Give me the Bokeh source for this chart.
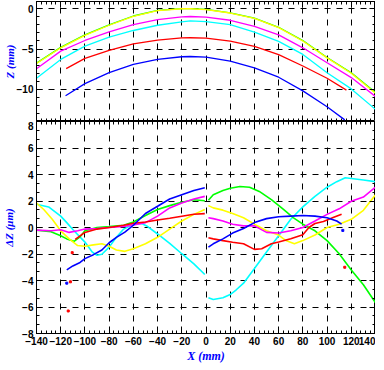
from bokeh.plotting import figure
from bokeh.layouts import column
from bokeh.models import SingleIntervalTicker, LinearAxis, Range1d, CustomJSTickFormatter
from bokeh.embed import file_html
from bokeh.resources import INLINE

NaN = float("nan")

# ---------------- upper panel: Z (mm) vs X (mm) ----------------
z_x_full = [-140, -120, -100, -80, -60, -40, -20, -13, 0, 20, 40, 60, 80, 100, 120, 140]
z_yellow = [-6.8, -4.85, -3.3, -2.05, -0.94, -0.23, 0.0, 0.0, -0.1, -0.53, -1.2, -2.35, -4.0, -6.1, -8.0, -10.5]
z_green = [-6.75, -4.8, -3.25, -2.0, -0.9, -0.2, 0.02, 0.02, -0.08, -0.5, -1.17, -2.3, -3.95, -6.05, -7.95, -10.4]
z_magenta = [-7.44, -5.26, -3.94, -2.87, -1.96, -1.35, -1.02, -0.96, -1.05, -1.43, -2.2, -3.25, -4.85, -6.7, -8.55, -10.9]
z_cyan = [-8.63, -6.29, -4.64, -3.53, -2.7, -2.05, -1.64, -1.5, -1.6, -1.96, -2.9, -4.05, -5.67, -7.94, -9.95, -12.5]
z_red_x = [-115.5, -100, -80, -60, -40, -20, -13, 0, 20, 40, 60, 80, 100, 116]
z_red = [-7.44, -6.16, -5.17, -4.36, -3.9, -3.62, -3.6, -3.65, -4.02, -4.66, -5.7, -7.11, -8.63, -10.1]
z_blue_x = [-116, -100, -80, -60, -40, -20, -13, 0, 20, 40, 60, 80, 100, 114.6]
z_blue = [-10.8, -9.3, -7.94, -6.9, -6.29, -5.96, -5.93, -6.0, -6.49, -7.35, -8.5, -10.2, -12.17, -13.8]

# ---------------- lower panel: dZ (um) vs X (mm) ----------------
cyan_x = [-140, -130, -120, -115, -110, -100, -94, -90, -86, -80, -74, -68, -60, -53, -49, -40, -30, -20, -10, -1,
          NaN, 2, 6, 14, 20, 25, 31, 40, 50, 60, 70, 80, 90, 100, 108, 115, 120, 130, 140]
cyan_y = [1.75, 1.55, 0.86, 0.37, -0.15, -1.1, -1.85, -2.1, -2.02, -1.48, -0.74, -0.12, 0.25, 0.3, 0.12, -0.49, -1.2, -1.98, -2.75, -3.55,
          NaN, -5.3, -5.43, -5.3, -5.06, -4.7, -4.2, -3.09, -1.85, -0.62, 0.62, 1.56, 2.35, 3.04, 3.46, 3.75, 3.7, 3.58, 3.46]

green_x = [-140, -128, -120, -115, -109, -104, -100, -90, -80, -68, -60, -50, -40, -30, -20, -10, -1,
           NaN, 2, 6, 14, 20, 28, 36, 44, 54, 64, 72, 80, 90, 100, 110, 120, 130, 140]
green_y = [-0.2, -0.32, -0.62, -0.86, -1.04, -0.7, -0.25, 0.0, 0.07, 0.17, 0.42, 0.91, 1.36, 1.65, 1.9, 2.1, 2.02,
           NaN, 2.05, 2.47, 2.79, 2.96, 3.09, 3.04, 2.72, 2.1, 1.36, 0.74, 0.25, -0.25, -0.99, -1.98, -3.2, -4.32, -5.68]

yellow_x = [-140, -134, -127, -120, -113, -106, -100, -93, -86, -80, -74, -67, -60, -50, -40, -30, -20, -10, -1,
            NaN, 2, 6, 14, 22, 31, 40, 50, 60, 66, 73, 80, 90, 100, 110, 120, 130, 140]
yellow_y = [1.85, 1.36, 0.62, -0.25, -0.86, -1.36, -1.41, -1.31, -1.23, -1.41, -1.7, -1.8, -1.6, -1.23, -0.74, -0.12, 0.49, 0.99, 1.36,
            NaN, 1.65, 1.48, 1.31, 1.06, 0.74, 0.25, -0.25, -0.57, -0.99, -1.23, -0.99, -0.57, 0.0, 0.25, 0.62, 1.3, 2.47]

magenta_x = [-140, -128, -120, -113, -106, -100, -90, -80, -68, -60, -50, -40, -30, -20, -10, -1,
             NaN, 2, 6, 14, 22, 31, 40, 50, 60, 70, 80, 90, 100, 110, 120, 130, 140]
magenta_y = [-0.2, -0.25, -0.17, -0.37, -0.25, -0.12, -0.07, 0.0, 0.07, 0.2, 0.37, 0.86, 1.48, 1.85, 2.15, 2.35,
             NaN, 0.74, 0.67, 0.49, 0.25, 0.12, 0.12, -0.37, -0.42, -0.25, 0.0, 0.49, 0.99, 1.41, 1.98, 2.3, 3.05]

red_x = [-108, -100, -90, -80, -68, -60, -50, -40, -30, -20, -10, -1,
         NaN, 2, 6, 14, 22, 31, 40, 46, 54, 60, 70, 80, 85, 90, 97, 105, 112]
red_y = [-0.9, -0.37, -0.12, 0.0, 0.17, 0.32, 0.42, 0.57, 0.7, 0.85, 1.0, 1.05,
         NaN, -0.78, -0.86, -0.99, -1.11, -1.23, -1.65, -1.6, -1.23, -1.1, -0.85, -0.55, 0.0, 0.3, 0.45, 0.75, 1.0]

blue_x = [-115, -110, -104, -100, -93, -86, -80, -74, -67, -60, -50, -40, -30, -20, -10, -1,
          NaN, 2, 6, 14, 22, 31, 40, 50, 60, 70, 80, 90, 100, 108, 112]
blue_y = [-3.2, -2.9, -2.64, -2.35, -2.05, -1.7, -1.15, -0.75, -0.35, 0.17, 1.06, 1.6, 2.15, 2.47, 2.79, 3.0,
          NaN, -1.48, -1.23, -0.86, -0.42, -0.07, 0.37, 0.67, 0.81, 0.86, 0.91, 0.86, 0.74, 0.49, 0.25]

red_out_x = [-113.8, -112, -110.5, 114.6]
red_out_y = [-6.3, -4.1, -1.9, -3.0]
blue_out_x = [-115, 113]
blue_out_y = [-4.2, -0.22]

x_ticks_interval = 20
z_ticks_interval = 5
dz_ticks_interval = 2

TICK_FONT = "Liberation Sans"
LABEL_FONT = "Liberation Serif"
BLUE = "#0000ff"
GRID_DASH = "dashed"


def hide_labels(ax, tin, tmin):
    ax.formatter = CustomJSTickFormatter(code="return '';")
    ax.major_label_text_font_size = "1px"
    ax.major_label_standoff = 0
    ax.major_tick_in = tin
    ax.major_tick_out = 0
    ax.minor_tick_in = tmin
    ax.minor_tick_out = 0
    ax.axis_line_color = "black"
    return ax


def style_main(ax, tin, tmin):
    ax.major_tick_in = tin
    ax.major_tick_out = 0
    ax.minor_tick_in = tmin
    ax.minor_tick_out = 0
    ax.major_label_text_font = TICK_FONT
    ax.major_label_text_font_style = "bold"
    ax.major_label_text_font_size = "10px"
    ax.major_label_text_color = "black"
    ax.major_label_standoff = 3
    ax.axis_label_text_font = LABEL_FONT
    ax.axis_label_text_font_style = "bold italic"
    ax.axis_label_text_font_size = "11px"
    ax.axis_label_text_color = BLUE


def style_grid(p):
    for g in list(p.xgrid) + list(p.ygrid):
        g.grid_line_color = "black"
        g.grid_line_alpha = 1.0
        g.grid_line_width = 1
        g.grid_line_dash = GRID_DASH


xt1 = SingleIntervalTicker(interval=x_ticks_interval, num_minor_ticks=5)
yt1 = SingleIntervalTicker(interval=z_ticks_interval, num_minor_ticks=5)

p1 = figure(frame_width=339, frame_height=120, x_range=Range1d(-140, 140), y_range=Range1d(-14, 0.9),
            output_backend="svg", toolbar_location=None,
            min_border_left=28, min_border_right=0, min_border_top=1, min_border_bottom=0)
p1.outline_line_color = "black"
p1.xaxis.ticker = xt1
p1.yaxis.ticker = yt1
hide_labels(p1.xaxis[0], 4, 3)
style_main(p1.yaxis[0], 6, 3)
p1.yaxis.axis_label = "Z (mm)"
p1.yaxis.axis_label_standoff = -2
p1.add_layout(hide_labels(LinearAxis(ticker=yt1), 6, 3), "right")
p1.add_layout(hide_labels(LinearAxis(ticker=xt1), 6, 3), "above")
style_grid(p1)

p1.line(z_x_full, z_green, color="#00ff00", line_width=1.3)
p1.line(z_x_full, z_yellow, color="#ffff00", line_width=1.3)
p1.line(z_x_full, z_magenta, color="#ff00ff", line_width=1.3)
p1.line(z_x_full, z_cyan, color="#00ffff", line_width=1.3)
p1.line(z_red_x, z_red, color="#ff0000", line_width=1.3)
p1.line(z_blue_x, z_blue, color="#0000ff", line_width=1.3)

xt2 = SingleIntervalTicker(interval=x_ticks_interval, num_minor_ticks=5)
yt2 = SingleIntervalTicker(interval=dz_ticks_interval, num_minor_ticks=3)

p2 = figure(frame_width=339, frame_height=212, x_range=Range1d(-140, 140), y_range=Range1d(-8, 8),
            output_backend="svg", toolbar_location=None,
            min_border_left=28, min_border_right=0, min_border_top=0, min_border_bottom=0)
p2.outline_line_color = "black"
p2.xaxis.ticker = xt2
p2.yaxis.ticker = yt2
style_main(p2.xaxis[0], 7, 3)
style_main(p2.yaxis[0], 6, 3)
p2.xaxis.axis_label = "X (mm)"
p2.xaxis.axis_label_text_font_size = "12px"
p2.xaxis.axis_label_standoff = 1
p2.yaxis.axis_label = "\u0394Z (\u03bcm)"
p2.yaxis.axis_label_standoff = 4
p2.add_layout(hide_labels(LinearAxis(ticker=yt2), 6, 3), "right")
p2.add_layout(hide_labels(LinearAxis(ticker=xt2), 4, 3), "above")
style_grid(p2)

LW = 1.6
p2.line(cyan_x, cyan_y, color="#00ffff", line_width=LW)
p2.line(green_x, green_y, color="#00ff00", line_width=LW)
p2.line(yellow_x, yellow_y, color="#ffff00", line_width=LW)
p2.line(magenta_x, magenta_y, color="#ff00ff", line_width=LW)
p2.line(red_x, red_y, color="#ff0000", line_width=LW)
p2.line(blue_x, blue_y, color="#0000ff", line_width=LW)
p2.scatter(red_out_x, red_out_y, marker="square", size=2, color="#ff0000")
p2.scatter(blue_out_x, blue_out_y, marker="square", size=2, color="#0000ff")

layout = column(p1, p2, spacing=0)
open("out.html", "w").write(file_html(layout, INLINE))
